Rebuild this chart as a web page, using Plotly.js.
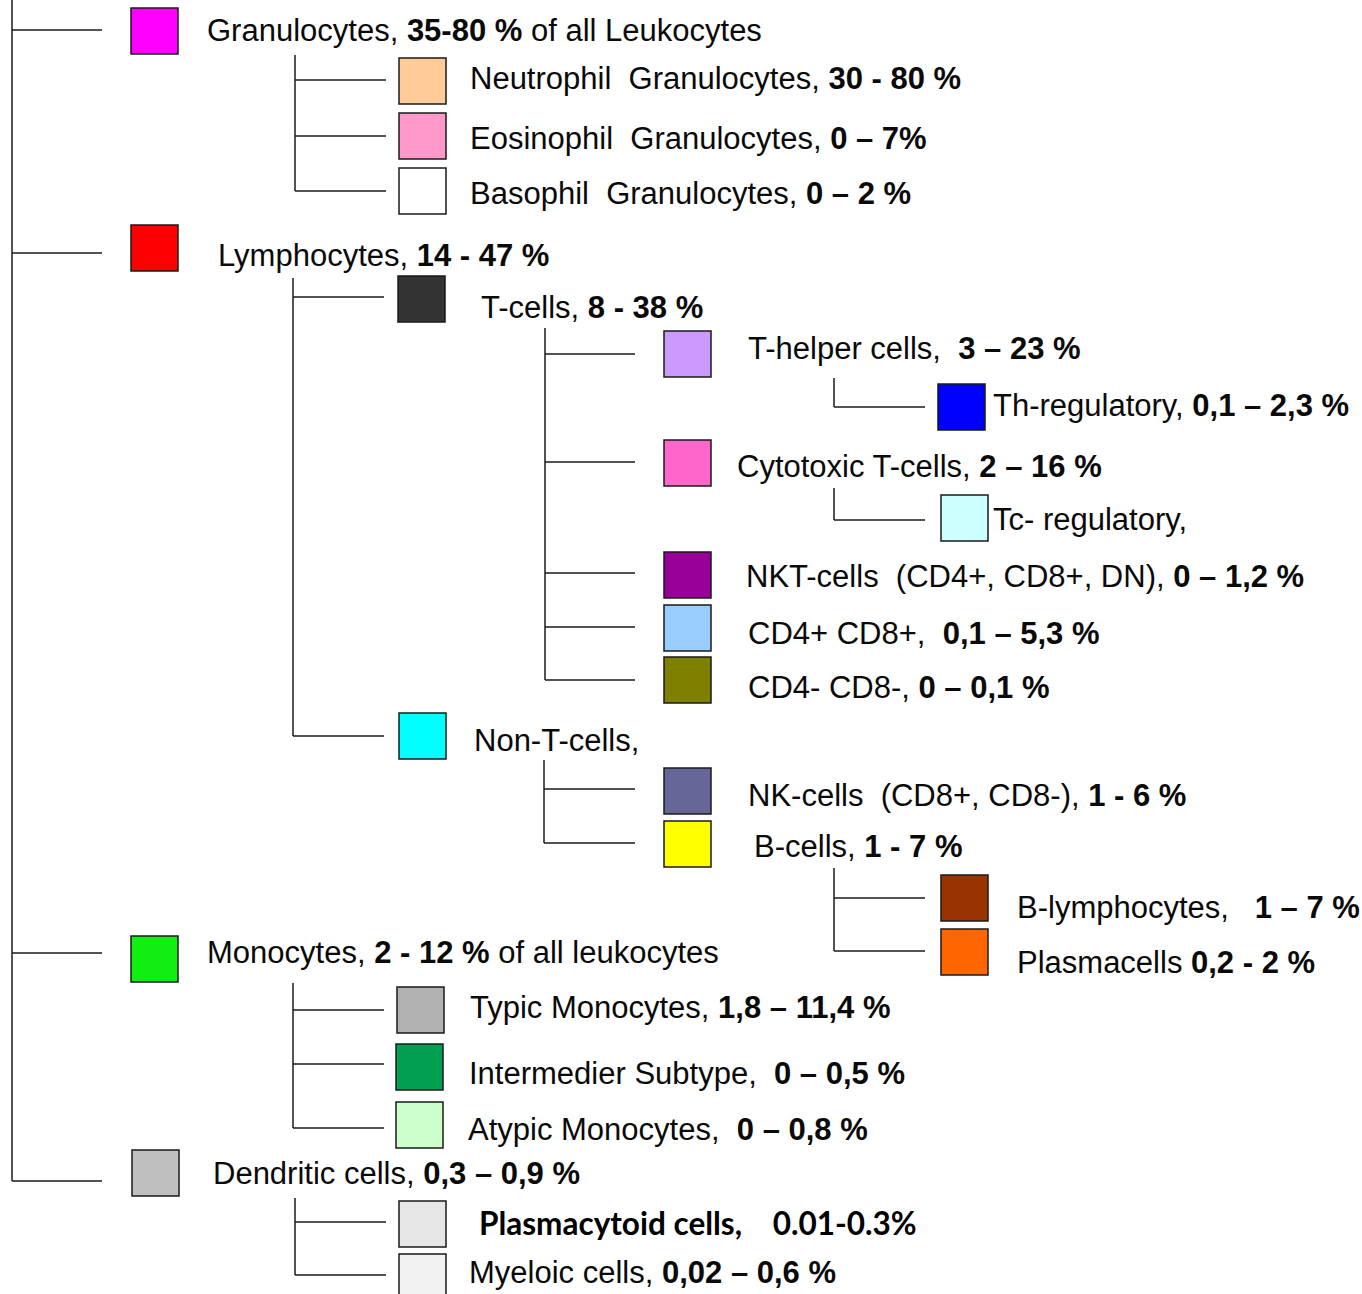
<!DOCTYPE html>
<html>
<head>
<meta charset="utf-8">
<script src="https://cdn.plot.ly/plotly-3.0.1.min.js"></script>
<style>html,body{margin:0;padding:0;background:#fff;}#chart{width:1362px;height:1294px;}</style>
</head>
<body>
<div id="chart"></div>
<script>
// ---------- DATA ----------
const names = [
  "Granulocytes, ", "Neutrophil\u00A0 Granulocytes, ", "Eosinophil\u00A0 Granulocytes, ", "Basophil\u00A0 Granulocytes, ",
  "Lymphocytes, ", "T-cells, ", "T-helper cells,\u00A0 ", "Th-regulatory, ", "Cytotoxic T-cells, ", "Tc- regulatory,",
  "NKT-cells\u00A0 (CD4+, CD8+, DN), ", "CD4+ CD8+,\u00A0 ", "CD4- CD8-, ", "Non-T-cells,", "NK-cells\u00A0 (CD8+, CD8-), ",
  "B-cells, ", "B-lymphocytes,\u00A0\u00A0 ", "Plasmacells ", "Monocytes, ", "Typic Monocytes, ",
  "Intermedier Subtype,\u00A0 ", "Atypic Monocytes,\u00A0 ", "Dendritic cells, ", "Plasmacytoid cells,\u00A0\u00A0\u00A0 ", "Myeloic cells, "
];
const ranges = [
  "35-80 %", "30 - 80 %", "0 – 7%", "0 – 2 %",
  "14 - 47 %", "8 - 38 %", "3 – 23 %", "0,1 – 2,3 %", "2 – 16 %", "",
  "0 – 1,2 %", "0,1 – 5,3 %", "0 – 0,1 %", "", "1 - 6 %",
  "1 - 7 %", "1 – 7 %", "0,2 - 2 %", "2 - 12 %", "1,8 – 11,4 %",
  "0 – 0,5 %", "0 – 0,8 %", "0,3 – 0,9 %", "0.01-0.3%", "0,02 – 0,6 %"
];
const suffixes = [
  " of all Leukocytes", "", "", "",
  "", "", "", "", "", "",
  "", "", "", "", "",
  "", "", "", " of all leukocytes", "",
  "", "", "", "", ""
];
const colors = [
  "#FF00FF", "#FFCC99", "#FF99CC", "#FFFFFF",
  "#FF0000", "#333333", "#CC99FF", "#0000FF", "#FF66CC", "#CCFFFF",
  "#990099", "#99CCFF", "#7F7F00", "#00FFFF", "#666699",
  "#FFFF00", "#993300", "#FF6600", "#11EE11", "#B2B2B2",
  "#00A050", "#CCFFCC", "#BFBFBF", "#E6E6E6", "#F2F2F2"
];
const parents = [
  -1, 0, 0, 0,
  -1, 4, 5, 6, 5, 8,
  5, 5, 5, 4, 13,
  13, 15, 15, -1, 18,
  18, 18, -1, 22, 22
];

// ---------- LAYOUT (positions, not data) ----------
const boxLeft = [131,399,399,399, 131,398,664,938,664,941, 664,664,664,399,664, 664,941,941,131,397, 396,396,132,399,399];
const boxTop  = [8,58,113,168, 225,276,331,384,440,495, 552,605,657,713,768, 821,875,929,936,987, 1044,1102,1150,1201,1254];
const linkY   = [30,80,136,191, 253,297,354,407,462,520, 573,627,680,736,789, 843,898,951,953,1010, 1064,1128,1181,1222,1275];
const linkEnd = [102,386,386,386, 102,384,635,925,635,925, 635,635,635,384,635, 635,925,925,102,384, 384,384,102,386,386];
const labelX  = [206,469,469,469, 217,480,747,992,736,992, 745,747,747,473,747, 753,1016,1016,206,469, 468,467,212,478,468];
const labelY  = [30,78,138,193, 255,307,348,405,466,519, 576,633,687,740,795, 846,907,962,952,1007, 1073,1129,1173,1223,1272];
const stemParent = [-1, 0, 4, 5, 6, 8, 13, 15, 18, 22];
const stemX      = [12, 295, 293, 545, 834, 834, 544, 834, 293, 295];
const stemTop    = [0, 55, 278, 328, 378, 488, 760, 868, 983, 1198];
const BOX_W = 47, BOX_H = 46;

// ---------- BUILD ----------
const lx = [], ly = [];
stemParent.forEach((p, k) => {
  const kids = parents.map((q, i) => q === p ? i : -1).filter(i => i >= 0);
  const bottom = Math.max(...kids.map(i => linkY[i]));
  lx.push(stemX[k], stemX[k], null); ly.push(stemTop[k], bottom, null);
  kids.forEach(i => { lx.push(stemX[k], linkEnd[i], null); ly.push(linkY[i], linkY[i], null); });
});

const shapes = names.map((n, i) => ({
  type: "rect", xref: "x", yref: "y",
  x0: boxLeft[i], x1: boxLeft[i] + BOX_W, y0: boxTop[i], y1: boxTop[i] + BOX_H,
  fillcolor: colors[i], line: {color: "#1a1a1a", width: 1.5}, layer: "above"
}));

const annotations = names.map((n, i) => {
  const special = i === 23;
  const txt = special ? "<b>" + n + ranges[i] + "</b>"
                      : n + (ranges[i] ? "<b>" + ranges[i] + "</b>" : "") + suffixes[i];
  return {
    x: labelX[i], y: labelY[i], xref: "x", yref: "y", text: txt, showarrow: false,
    xanchor: "left", yanchor: "middle", borderpad: 0,
    font: special ? {family: "Lato, 'Noto Sans', sans-serif", size: 31.5, color: "#000"}
                  : {family: "'Liberation Sans', Arial, sans-serif", size: 31, color: "#0a0a0a"}
  };
});

const trace = {x: lx, y: ly, mode: "lines", type: "scatter", line: {color: "#1a1a1a", width: 1.5},
  hoverinfo: "skip", showlegend: false, connectgaps: false};

Plotly.newPlot("chart", [trace], {
  width: 1362, height: 1294, margin: {l: 0, r: 0, t: 0, b: 0},
  paper_bgcolor: "#fff", plot_bgcolor: "#fff", showlegend: false,
  xaxis: {range: [0, 1362], visible: false, fixedrange: true},
  yaxis: {range: [1294, 0], visible: false, fixedrange: true},
  shapes: shapes, annotations: annotations
}, {displayModeBar: false, staticPlot: true});
</script>
</body>
</html>
